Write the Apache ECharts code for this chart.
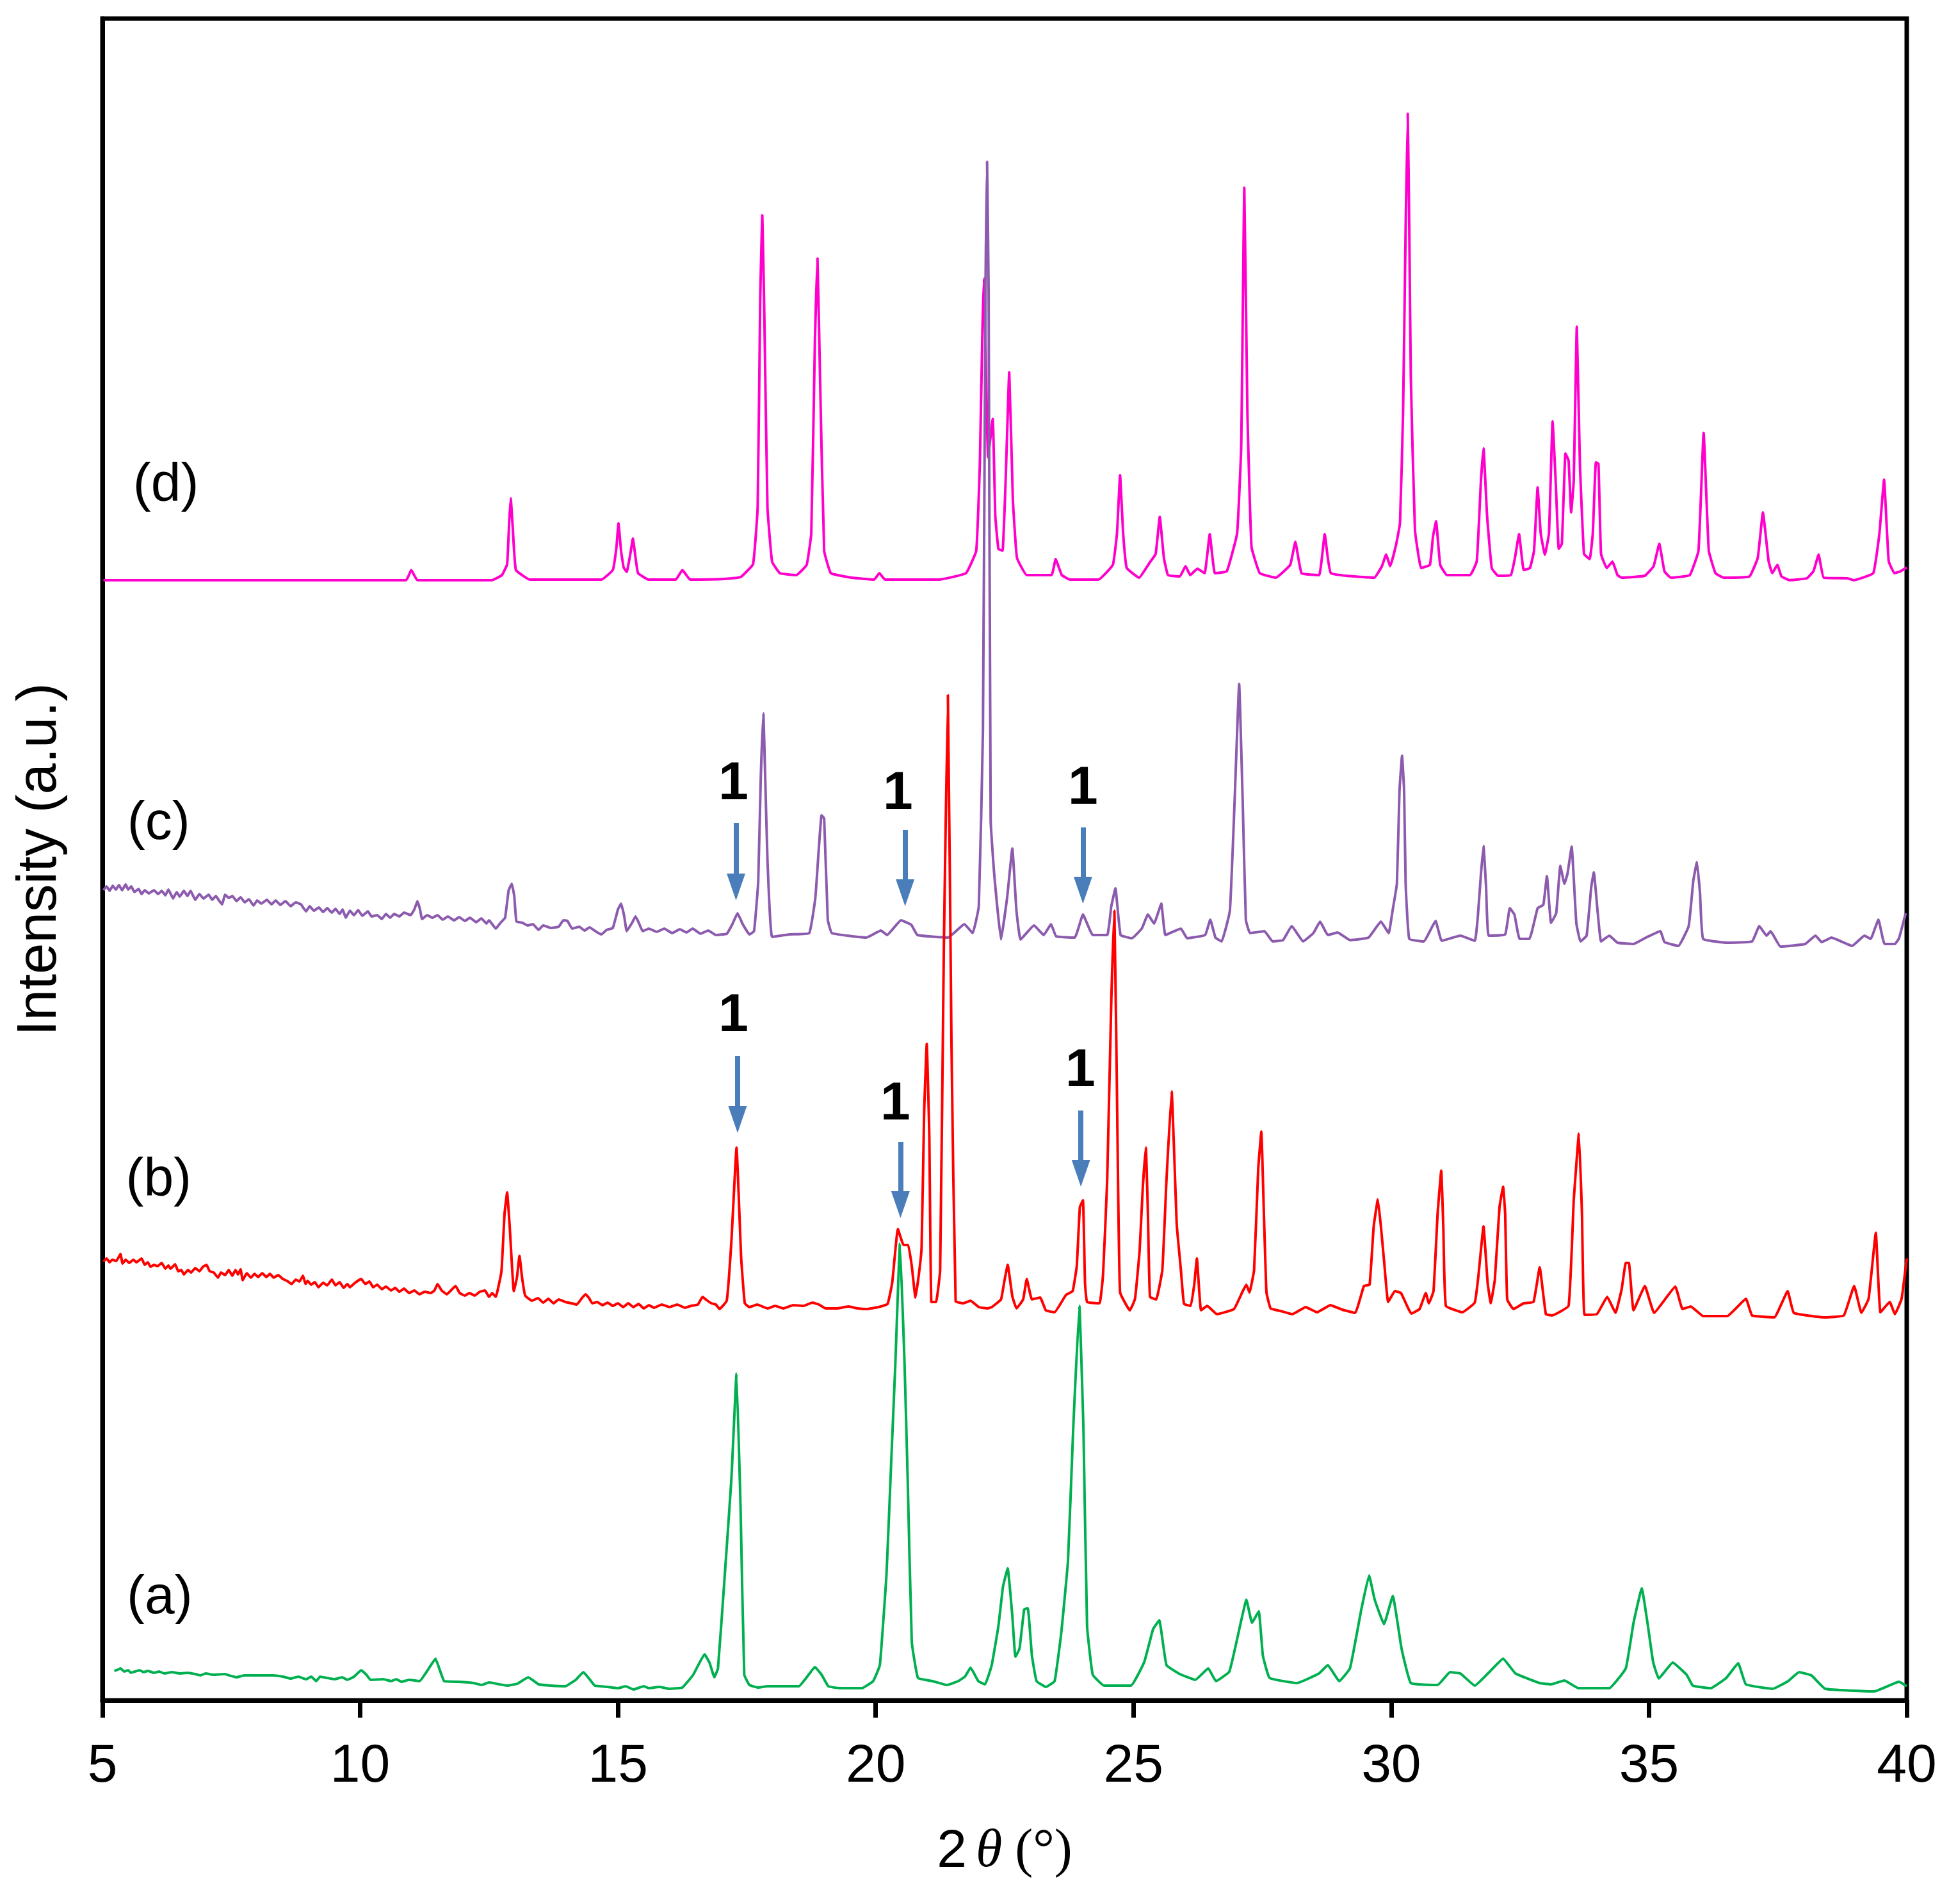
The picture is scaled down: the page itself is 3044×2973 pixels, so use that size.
<!DOCTYPE html>
<html>
<head>
<meta charset="utf-8">
<title>XRD patterns</title>
<script src="https://cdn.jsdelivr.net/npm/echarts@6/dist/echarts.min.js"></script>
<style>
html, body { margin: 0; padding: 0; background: #fff; }
#chart { width: 3044px; height: 2973px; }
</style>
</head>
<body>
<div id="chart"></div>
<script>
// [2theta, intensity], offsets of the stack included
var patternA = [
    [5.23,46],[5.3,48],[5.35,50],[5.42,45],[5.5,47],[5.55,43],[5.63,45],[5.72,47],[5.8,44],[5.88,46],[6.0,43],[6.1,45],[6.2,42],[6.35,44],[6.5,42],[6.65,43],[6.8,41],[6.9,39],[7.0,42],[7.15,40],[7.37,41],[7.5,38],[7.6,36],[7.75,39],[8.0,39],[8.3,39],[8.5,37],[8.65,34],[8.8,37],[8.95,33],[9.05,37],[9.15,30],[9.22,37],[9.35,35],[9.5,33],[9.65,36],[9.75,32],[9.88,37],[10.02,47],[10.12,40],[10.2,32],[10.45,33],[10.6,30],[10.7,33],[10.8,29],[10.95,32],[11.15,30],[11.3,46],[11.46,65],[11.55,46],[11.63,30],
    [11.9,29],[12.2,27],[12.35,24],[12.5,28],[12.7,25],[12.85,23],[13.05,26],[13.26,36],[13.46,25],[13.7,23],[13.98,22],[14.18,32],[14.33,44],[14.44,34],[14.55,23],[14.8,21],[15.0,19],[15.15,22],[15.3,17],[15.5,22],[15.6,19],[15.8,21],[16.0,18],[16.25,20],[16.46,40],[16.68,72],[16.78,58],[16.87,36],[16.94,50],[17.07,193],[17.2,345],[17.3,510],[17.38,295],[17.45,40],[17.55,24],[17.72,20],
    [17.9,22],[18.3,22],[18.51,22],[18.68,38],[18.82,52],[18.95,40],[19.08,22],[19.3,19],[19.73,19],[19.95,30],[20.08,55],[20.21,198],[20.3,371],[20.38,524],[20.47,713],[20.56,524],[20.62,346],[20.7,91],[20.82,35],[21.1,30],[21.38,24],[21.6,30],[21.73,37],[21.84,51],[21.99,30],[22.12,25],[22.25,55],[22.38,116],[22.47,178],[22.56,206],[22.65,132],[22.71,68],[22.79,81],[22.88,142],[22.95,144],[23.03,70],[23.12,30],[23.3,21],[23.47,30],[23.6,106],[23.73,218],[23.83,422],[23.95,616],[24.03,422],[24.1,116],[24.21,40],[24.43,23],[24.95,23],
    [25.21,60],[25.38,111],[25.5,125],[25.64,55],[25.9,41],[26.2,32],[26.45,50],[26.6,30],[26.86,45],[27.08,121],[27.19,157],[27.3,121],[27.43,139],[27.51,70],[27.64,35],[28.17,27],[28.6,42],[28.77,55],[28.99,30],[29.2,50],[29.42,142],[29.57,195],[29.68,157],[29.86,119],[30.03,163],[30.2,81],[30.38,27],[30.9,24],[31.14,44],[31.34,42],[31.62,23],[31.9,44],[32.17,65],[32.41,42],[32.88,27],[33.1,25],[33.36,31],[33.63,19],[34.23,19],[34.55,50],[34.7,121],[34.86,175],[34.98,116],[35.08,60],[35.19,34],[35.46,59],[35.73,40],[35.85,23],[36.2,19],[36.5,35],[36.73,58],[36.88,25],[37.4,18],[37.7,30],[37.91,44],[38.15,39],[38.42,18],[39.37,14],[39.85,29],[40,22]
];
var patternB = [
    [5.02,685],[5.08,690],[5.14,684],[5.19,688],[5.27,686],[5.35,697],[5.39,682],[5.45,688],[5.52,683],[5.6,688],[5.66,684],[5.76,690],[5.82,680],[5.88,684],[5.93,677],[6.0,680],[6.07,678],[6.15,683],[6.22,674],[6.28,679],[6.32,674],[6.41,681],[6.47,670],[6.53,672],[6.58,665],[6.66,672],[6.72,668],[6.8,675],[6.88,670],[6.95,677],[7.02,680],[7.08,670],[7.16,668],[7.24,660],[7.3,668],[7.38,664],[7.45,672],[7.52,663],[7.58,672],[7.63,665],[7.68,673],[7.72,656],[7.8,667],[7.88,660],[7.95,666],[8.02,661],[8.1,667],[8.18,661],[8.25,666],[8.32,660],[8.41,664],[8.5,658],[8.58,655],[8.67,650],[8.75,657],[8.82,654],[8.89,663],[8.94,650],[8.98,655],[9.05,649],[9.12,653],[9.19,645],[9.28,652],[9.36,648],[9.45,657],[9.52,648],[9.6,653],[9.68,644],[9.75,650],[9.8,645],[9.9,652],[10.02,658],[10.1,650],[10.18,654],[10.25,645],[10.33,649],[10.42,642],[10.5,646],[10.6,640],[10.68,644],[10.76,638],[10.85,643],[10.95,636],[11.05,640],[11.15,634],[11.25,638],[11.37,636],[11.44,640],[11.5,650],[11.58,640],[11.68,634],[11.76,640],[11.85,647],[11.93,636],[12.03,632],[12.12,636],[12.22,632],[12.32,638],[12.42,640],[12.5,630],[12.56,636],[12.63,630],[12.74,670],[12.8,760],[12.85,793],[12.9,740],[12.98,639],[13.04,660],[13.09,694],[13.14,660],[13.2,632],[13.33,624],[13.45,628],[13.55,621],[13.65,627],[13.75,620],[13.85,626],[13.98,622],[14.1,620],[14.2,618],[14.3,628],[14.37,634],[14.44,628],[14.5,620],[14.6,622],[14.7,617],[14.8,621],[14.9,616],[15.0,620],[15.1,614],[15.2,620],[15.3,614],[15.4,619],[15.5,612],[15.6,617],[15.7,613],[15.85,618],[16,614],[16.15,618],[16.3,613],[16.42,616],[16.55,618],[16.64,630],[16.72,625],[16.81,620],[16.9,618],[16.97,611],[17.11,624],[17.2,716],[17.3,863],[17.39,691],[17.46,620],[17.55,614],
    [17.7,618],[17.9,612],[18.05,616],[18.2,612],[18.4,617],[18.6,616],[18.77,621],[18.9,618],[19.03,612],[19.25,612],[19.47,615],[19.65,612],[19.82,611],[20.05,614],[20.23,619],[20.32,652],[20.43,736],[20.54,711],[20.63,711],[20.7,678],[20.77,629],[20.84,667],[20.89,707],[20.94,920],[20.99,1025],[21.04,880],[21.08,622],[21.17,622],[21.25,672],[21.32,1163],[21.4,1570],[21.47,1023],[21.55,623],[21.7,620],[21.84,624],[22.0,614],[22.17,612],[22.25,614],[22.43,626],[22.49,652],[22.56,680],[22.65,631],[22.73,612],[22.86,626],[22.93,658],[23.03,626],[23.19,629],[23.3,609],[23.47,606],[23.69,633],[23.82,639],[23.9,678],[23.96,770],[24.02,781],[24.06,652],[24.1,622],[24.34,620],[24.41,665],[24.49,812],[24.57,1093],[24.63,1233],[24.69,882],[24.74,637],[24.93,609],[25.03,627],[25.12,703],[25.18,800],[25.24,863],[25.28,760],[25.32,630],[25.44,626],[25.56,672],[25.64,812],[25.74,951],[25.84,742],[25.92,672],[25.98,619],[26.11,616],[26.18,650],[26.23,690],[26.31,609],[26.43,616],[26.62,603],[26.95,611],[27.12,639],[27.19,649],[27.25,637],[27.34,672],[27.42,830],[27.48,888],[27.53,760],[27.58,637],[27.66,612],[27.85,608],[28.08,603],[28.34,614],[28.56,606],[28.82,617],[29.05,610],[29.3,605],[29.47,647],[29.58,649],[29.66,740],[29.74,782],[29.8,740],[29.87,678],[29.94,622],[30.07,639],[30.19,636],[30.39,604],[30.55,611],[30.67,636],[30.73,620],[30.82,639],[30.9,760],[30.97,827],[31.01,740],[31.06,616],[31.38,606],[31.62,621],[31.69,662],[31.79,740],[31.87,652],[31.93,620],[32.01,657],[32.1,770],[32.17,802],[32.21,760],[32.25,626],[32.37,611],[32.57,620],[32.76,622],[32.88,676],[33.0,603],[33.12,601],[33.44,616],[33.54,780],[33.64,885],[33.7,760],[33.75,602],[33.99,603],[34.19,630],[34.35,605],[34.47,642],[34.55,683],[34.61,683],[34.7,609],[34.92,647],[35.1,605],[35.51,646],[35.65,611],[35.81,615],[36.05,600],[36.52,600],[36.88,627],[37.0,601],[37.43,598],[37.69,639],[37.81,605],[38.42,598],[38.78,601],[38.98,647],[39.12,605],[39.26,627],[39.4,730],[39.49,606],[39.67,622],[39.77,603],[39.9,627],[40,690]
];
var patternC = [
    [5.02,1265],[5.08,1271],[5.14,1264],[5.2,1272],[5.26,1266],[5.32,1273],[5.38,1265],[5.45,1274],[5.5,1266],[5.56,1271],[5.62,1262],[5.7,1267],[5.76,1259],[5.82,1265],[5.9,1260],[6.0,1265],[6.08,1259],[6.15,1264],[6.22,1257],[6.28,1266],[6.37,1252],[6.44,1262],[6.5,1255],[6.58,1264],[6.65,1256],[6.71,1264],[6.8,1250],[6.88,1259],[6.96,1252],[7.06,1258],[7.13,1250],[7.2,1256],[7.26,1249],[7.32,1243],[7.38,1258],[7.45,1253],[7.52,1256],[7.6,1248],[7.68,1254],[7.76,1246],[7.84,1251],[7.93,1241],[8.0,1249],[8.08,1244],[8.19,1250],[8.28,1243],[8.36,1249],[8.45,1242],[8.55,1248],[8.65,1240],[8.75,1246],[8.85,1243],[8.95,1232],[9.02,1240],[9.1,1233],[9.2,1238],[9.28,1231],[9.36,1237],[9.45,1230],[9.52,1236],[9.6,1228],[9.66,1235],[9.72,1222],[9.8,1233],[9.88,1226],[9.96,1234],[10.04,1225],[10.15,1232],[10.22,1224],[10.33,1226],[10.42,1220],[10.5,1228],[10.58,1222],[10.66,1228],[10.76,1224],[10.85,1230],[10.98,1226],[11.05,1235],[11.11,1248],[11.16,1235],[11.2,1220],[11.3,1226],[11.4,1222],[11.5,1226],[11.6,1219],[11.7,1224],[11.82,1218],[11.92,1223],[12.03,1217],[12.13,1222],[12.25,1215],[12.35,1221],[12.45,1213],[12.5,1218],[12.63,1205],[12.72,1214],[12.81,1222],[12.88,1265],[12.94,1275],[12.99,1255],[13.03,1216],[13.15,1214],[13.25,1210],[13.35,1212],[13.46,1203],[13.55,1210],[13.7,1206],[13.85,1208],[13.94,1218],[14.02,1217],[14.11,1205],[14.25,1208],[14.35,1202],[14.45,1207],[14.58,1200],[14.68,1196],[14.78,1203],[14.9,1206],[15.0,1235],[15.06,1244],[15.12,1225],[15.17,1201],[15.28,1215],[15.34,1224],[15.4,1215],[15.48,1201],[15.6,1205],[15.75,1200],[15.9,1205],[16.05,1198],[16.2,1204],[16.33,1199],[16.45,1205],[16.6,1197],[16.75,1202],[16.9,1195],[17.11,1197],[17.22,1212],[17.32,1229],[17.42,1212],[17.55,1196],[17.64,1201],[17.72,1277],[17.77,1440],[17.82,1541],[17.86,1430],[17.9,1313],[17.99,1192],
    [18.33,1196],[18.71,1198],[18.83,1254],[18.95,1382],[19.0,1377],[19.07,1219],[19.15,1198],[19.82,1191],[20.1,1202],[20.22,1195],[20.49,1218],[20.69,1211],[20.81,1195],[21.4,1191],[21.72,1212],[21.88,1198],[22.0,1240],[22.08,1514],[22.13,2200],[22.16,2403],[22.19,2200],[22.23,1373],[22.3,1289],[22.43,1188],[22.55,1254],[22.65,1330],[22.73,1233],[22.81,1188],[23.07,1210],[23.26,1195],[23.4,1212],[23.5,1193],[23.86,1191],[24.02,1227],[24.21,1195],[24.49,1195],[24.57,1240],[24.65,1268],[24.75,1195],[24.97,1190],[25.16,1205],[25.28,1227],[25.4,1213],[25.54,1244],[25.62,1195],[25.92,1205],[26.04,1190],[26.39,1195],[26.49,1219],[26.59,1191],[26.71,1185],[26.87,1233],[26.96,1400],[27.05,1587],[27.12,1400],[27.18,1219],[27.26,1198],[27.54,1201],[27.7,1185],[27.9,1187],[28.07,1209],[28.29,1185],[28.49,1198],[28.62,1216],[28.77,1195],[28.96,1199],[29.2,1187],[29.56,1191],[29.8,1216],[29.95,1198],[30.03,1235],[30.11,1275],[30.16,1420],[30.21,1475],[30.25,1420],[30.28,1275],[30.35,1189],[30.63,1185],[30.86,1217],[30.98,1186],[31.34,1194],[31.62,1186],[31.68,1224],[31.74,1290],[31.79,1334],[31.84,1270],[31.89,1194],[32.21,1196],[32.3,1237],[32.39,1227],[32.49,1189],[32.68,1189],[32.84,1237],[32.95,1242],[33.02,1287],[33.1,1214],[33.2,1229],[33.28,1303],[33.36,1275],[33.42,1291],[33.5,1333],[33.59,1214],[33.67,1185],[33.79,1194],[33.88,1270],[33.93,1293],[34.0,1235],[34.07,1185],[34.23,1194],[34.39,1183],[34.7,1181],[34.94,1191],[35.22,1201],[35.3,1184],[35.57,1178],[35.77,1209],[35.86,1280],[35.93,1309],[35.99,1260],[36.05,1189],[36.52,1183],[37.0,1185],[37.14,1209],[37.28,1194],[37.36,1201],[37.55,1177],[38.03,1181],[38.23,1194],[38.35,1184],[38.54,1191],[38.94,1178],[39.18,1194],[39.3,1189],[39.45,1219],[39.57,1181],[39.77,1181],[39.85,1190],[39.98,1229]
];
var patternD = [
    [5.02,1749],[10.89,1749],[10.99,1765],[11.11,1749],[12.55,1749],[12.75,1757],[12.85,1774],[12.89,1840],[12.92,1877],[12.96,1830],[13.02,1765],[13.29,1750],[14.68,1750],[14.9,1765],[14.97,1800],[15.01,1838],[15.06,1795],[15.11,1769],[15.17,1762],[15.24,1790],[15.29,1814],[15.34,1785],[15.39,1760],[15.59,1750],[16.12,1750],[16.25,1765],[16.4,1750],[17.07,1751],[17.38,1754],[17.62,1774],[17.71,1863],[17.76,2190],[17.8,2319],[17.84,2160],[17.9,1863],[17.99,1778],[18.14,1760],[18.46,1757],[18.66,1773],[18.75,1822],[18.82,2120],[18.87,2252],[18.92,2066],[19.0,1795],[19.13,1760],[19.53,1753],[19.97,1750],[20.07,1760],[20.18,1750],[21.23,1750],[21.75,1760],[21.95,1795],[22.02,1931],[22.07,2140],[22.1,2220],[22.18,1941],[22.27,2001],[22.32,1849],[22.38,1798],[22.46,1795],[22.52,1904],[22.59,2074],[22.66,1876],[22.74,1784],[22.93,1757],[23.41,1757],[23.49,1782],[23.61,1757],[23.77,1750],[24.32,1750],[24.6,1773],[24.68,1822],[24.74,1913],[24.8,1822],[24.87,1768],[25.11,1753],[25.31,1776],[25.43,1790],[25.51,1848],[25.59,1784],[25.67,1757],[25.9,1755],[26.01,1771],[26.1,1757],[26.24,1767],[26.38,1760],[26.48,1821],[26.58,1760],[26.81,1763],[27.01,1822],[27.09,1958],[27.15,2362],[27.21,2012],[27.29,1801],[27.45,1760],[27.76,1753],[28.04,1773],[28.14,1809],[28.26,1760],[28.6,1757],[28.71,1821],[28.83,1760],
    [29.67,1753],[29.82,1771],[29.9,1789],[29.98,1771],[30.09,1803],[30.17,1838],[30.23,2012],[30.28,2300],[30.32,2478],[30.35,2300],[30.38,2066],[30.46,1828],[30.58,1768],[30.75,1773],[30.81,1817],[30.87,1841],[30.95,1773],[31.08,1757],[31.53,1757],[31.66,1779],[31.74,1904],[31.79,1955],[31.86,1849],[31.95,1768],[32.07,1756],[32.32,1757],[32.4,1784],[32.48,1821],[32.57,1765],[32.69,1768],[32.77,1795],[32.84,1894],[32.9,1822],[32.98,1789],[33.06,1822],[33.13,1997],[33.19,1904],[33.25,1798],[33.31,1806],[33.38,1947],[33.44,1936],[33.49,1855],[33.54,1904],[33.6,2145],[33.66,1931],[33.74,1790],[33.85,1782],[33.91,1822],[33.97,1933],[34.02,1931],[34.07,1790],[34.18,1768],[34.29,1778],[34.39,1757],[34.47,1753],[34.92,1756],[35.09,1771],[35.2,1806],[35.3,1763],[35.42,1753],[35.79,1757],[35.96,1795],[36.06,1979],[36.16,1795],[36.29,1760],[36.45,1753],[36.95,1755],[37.11,1784],[37.21,1855],[37.32,1779],[37.39,1760],[37.49,1773],[37.57,1755],[37.73,1749],[38.06,1752],[38.19,1763],[38.29,1789],[38.39,1753],[38.85,1752],[38.97,1749],[39.35,1760],[39.47,1822],[39.56,1906],[39.65,1779],[39.76,1760],[39.88,1763],[40,1769]
];

var xTicks = ['5', '10', '15', '20', '25', '30', '35', '40'];

// panel tags
var panelText = ['(d)', '(c)', '(b)', '(a)'];
var panelTheta = [6.23, 6.09, 6.09, 6.11];
var panelLevel = [1896, 1368, 811, 159];

// the "1" peaks and their arrows
var arrowTheta = [17.29, 20.57, 24.02, 17.32, 20.48, 23.98];
var arrowTop = [1370, 1359, 1363, 1006, 872, 921];
var arrowTip = [1249, 1240, 1244, 886, 753, 802];
var oneTheta = [17.24, 20.43, 24.02, 17.24, 20.38, 23.97];
var oneLevel = [1430, 1415, 1423, 1068, 930, 982];

var fontSans = '"Liberation Sans", Arial, sans-serif';
var fontSerif = '"Liberation Serif", "Times New Roman", serif';
var headLength = 42;

function tagPoints(thetas, levels, texts) {
    return thetas.map(function (val, idx) {
        return { value: [val, levels[idx]], text: texts ? texts[idx] : '1' };
    });
}

function patternSeries(name, data, color) {
    return {
        name: name,
        type: 'line',
        data: data,
        showSymbol: false,
        silent: true,
        animation: false,
        smooth: 0.1,
        lineStyle: { color: color, width: 4 },
        z: 3
    };
}

var arrowLines = arrowTheta.map(function (val, idx) {
    return [
        { coord: [val, arrowTop[idx]], symbol: 'none' },
        // triangle sits centred on its coordinate, so pull it back by half a head
        { coord: [val, arrowTip[idx] + headLength / 2], symbol: 'triangle', symbolSize: [29, headLength] }
    ];
});

var chartDom = document.getElementById('chart');
var myChart = echarts.init(chartDom);

var option = {
    backgroundColor: '#fff',
    animation: false,
    grid: {
        left: 160,
        top: 29,
        right: 66,
        bottom: 318,
        outerBoundsMode: 'none',
        show: true,
        borderColor: '#000',
        borderWidth: 7,
        backgroundColor: 'transparent'
    },
    xAxis: {
        type: 'value',
        min: 5,
        max: 40,
        interval: 5,
        name: '{two|2}{theta|\u03b8}{unit|(\u00b0)}',
        nameLocation: 'middle',
        nameGap: 195,
        nameTextStyle: {
            rich: {
                two: { fontFamily: fontSans, fontSize: 84, color: '#000', padding: [0, 14, 0, 0] },
                theta: { fontFamily: fontSerif, fontStyle: 'italic', fontSize: 84, color: '#000', padding: [0, 20, 0, 0] },
                unit: { fontFamily: fontSerif, fontSize: 84, color: '#000' }
            }
        },
        axisLine: { show: true, lineStyle: { color: '#000', width: 7 } },
        axisTick: { show: true, inside: false, length: 27, lineStyle: { color: '#000', width: 7 } },
        axisLabel: {
            show: true,
            margin: 62,
            fontFamily: fontSans,
            fontSize: 84,
            color: '#000',
            formatter: function (val) {
                return xTicks[(val - 5) / 5];
            }
        },
        splitLine: { show: false }
    },
    yAxis: {
        type: 'value',
        min: 0,
        max: 2626,
        name: 'Intensity (a.u.)',
        nameLocation: 'middle',
        nameGap: 53,
        nameTextStyle: { fontFamily: fontSans, fontSize: 87, color: '#000' },
        axisLine: { show: true, lineStyle: { color: '#000', width: 7 } },
        axisTick: { show: false },
        axisLabel: { show: false },
        splitLine: { show: false }
    },
    series: [
        patternSeries('(d)', patternD, '#FF00CC'),
        patternSeries('(c)', patternC, '#8C5BAE'),
        patternSeries('(b)', patternB, '#FF0000'),
        patternSeries('(a)', patternA, '#00B050'),
        {
            name: 'panels',
            type: 'scatter',
            symbolSize: 0,
            silent: true,
            itemStyle: { opacity: 1 },
            data: tagPoints(panelTheta, panelLevel, panelText),
            label: {
                show: true,
                position: [0, 0],
                align: 'center',
                verticalAlign: 'middle',
                fontFamily: fontSans,
                fontSize: 84,
                color: '#000',
                formatter: function (params) {
                    return params.data.text;
                }
            },
            z: 5
        },
        {
            name: 'ones',
            type: 'scatter',
            symbolSize: 0,
            silent: true,
            itemStyle: { opacity: 1 },
            data: tagPoints(oneTheta, oneLevel),
            label: {
                show: true,
                position: [0, 0],
                align: 'center',
                verticalAlign: 'middle',
                fontFamily: fontSans,
                fontWeight: 'bold',
                fontSize: 84,
                color: '#000',
                formatter: function (params) {
                    return params.data.text;
                }
            },
            markLine: {
                silent: true,
                animation: false,
                label: { show: false },
                lineStyle: { color: '#4A7EBB', width: 8, type: 'solid' },
                itemStyle: { color: '#4A7EBB' },
                data: arrowLines
            },
            z: 6
        }
    ]
};

myChart.setOption(option);
</script>
</body>
</html>
